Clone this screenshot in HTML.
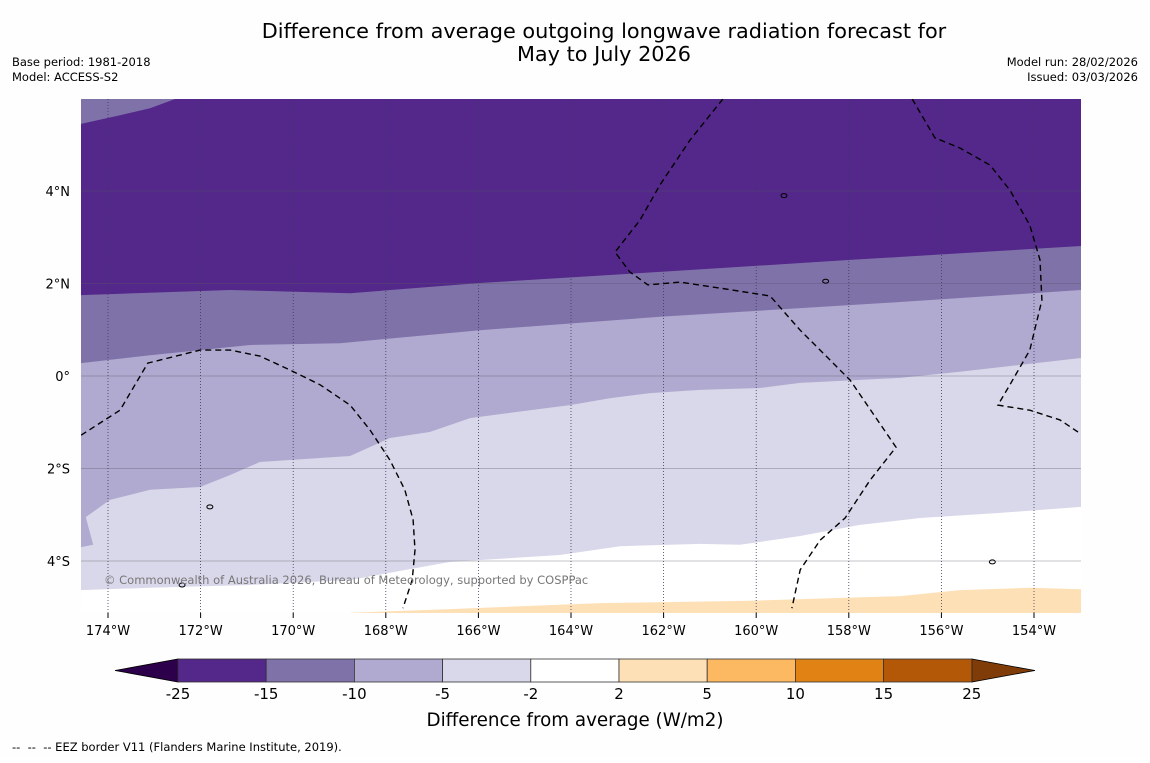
<!DOCTYPE html>
<html><head><meta charset="utf-8"><style>
body{margin:0;background:#fff;width:1150px;height:758px;overflow:hidden;font-family:"Liberation Sans","DejaVu Sans",sans-serif}
svg text{font-family:"DejaVu Sans","Liberation Sans",sans-serif}
</style></head><body>
<svg id="chart" width="1150" height="758" xmlns="http://www.w3.org/2000/svg">
<rect width="1150" height="758" fill="#fefefe"/>
<text x="604" y="38" font-size="20.8" text-anchor="middle">Difference from average outgoing longwave radiation forecast for</text>
<text x="604" y="61" font-size="20.8" text-anchor="middle">May to July 2026</text>
<text x="12" y="66" font-size="11.5">Base period: 1981-2018</text>
<text x="12" y="81" font-size="11.5">Model: ACCESS-S2</text>
<text x="1138" y="66" font-size="11.5" text-anchor="end">Model run: 28/02/2026</text>
<text x="1138" y="81" font-size="11.5" text-anchor="end">Issued: 03/03/2026</text>
<defs><clipPath id="mapclip"><rect x="81" y="99" width="1000" height="514"/></clipPath></defs>
<g id="map" clip-path="url(#mapclip)"></g>
<g id="axes"></g>
<g id="cbar"></g>
<text x="575" y="726" font-size="18.3" text-anchor="middle">Difference from average (W/m2)</text>
<text x="12" y="751" font-size="11.5" xml:space="preserve">--  --  -- EEZ border V11 (Flanders Marine Institute, 2019).</text>
</svg>
<script>
const lonTicks=[-174,-172,-170,-168,-166,-164,-162,-160,-158,-156,-154];
const latTicks=[4,2,0,-2,-4];
const cbarLevels=[-25,-15,-10,-5,-2,2,5,10,15,25];
const cbarColors=["#54278a","#7f72a9","#b0aad0","#d9d8ea","#ffffff","#fee0b6","#fdb862","#e08214","#b35806"];
const bandColors=["#d9d8ea","#b0aad0","#7f72a9","#54278a"];
const bLavWhite=[[-174.58,-4.63],[-173.09,-4.58],[-170.93,-4.52],[-168.77,-4.41],[-166.61,-4.02],[-164.24,-3.87],[-162.94,-3.68],[-161.21,-3.63],[-160.35,-3.65],[-159.05,-3.46],[-157.76,-3.22],[-156.46,-3.07],[-154.73,-2.96],[-152.98,-2.83]];
const bLightLav=[[-174.58,-3.70],[-174.32,-3.65],[-174.48,-3.05],[-173.96,-2.68],[-173.09,-2.46],[-172.01,-2.40],[-171.36,-2.14],[-170.72,-1.86],[-168.77,-1.73],[-167.91,-1.34],[-167.05,-1.21],[-166.18,-0.91],[-164.89,-0.74],[-164.02,-0.63],[-163.16,-0.48],[-162.29,-0.37],[-161.21,-0.30],[-159.92,-0.26],[-159.05,-0.15],[-156.89,-0.04],[-155.60,0.09],[-152.98,0.39]];
const bMidLight=[[-174.58,0.28],[-173.09,0.45],[-170.93,0.67],[-168.99,0.71],[-165.97,0.99],[-162.08,1.28],[-156.89,1.60],[-152.98,1.86]];
const bDarkMid=[[-174.58,1.75],[-171.36,1.86],[-168.77,1.79],[-165.97,2.01],[-162.08,2.25],[-157.97,2.51],[-152.98,2.81]];
const bWhiteOrange=[[-168.77,-5.12],[-166.61,-5.04],[-163.37,-4.91],[-160.13,-4.86],[-156.89,-4.76],[-155.60,-4.63],[-154.09,-4.58],[-152.98,-4.61]];
const cornerLine=[[-174.58,5.45],[-173.74,5.64],[-173.09,5.79],[-172.55,5.99]];
const eez1=[[-174.58,-1.28],[-173.74,-0.74],[-173.14,0.28],[-172.01,0.56],[-171.36,0.56],[-170.72,0.43],[-170.07,0.13],[-169.42,-0.19],[-168.77,-0.63],[-168.34,-1.17],[-167.91,-1.82],[-167.59,-2.46],[-167.41,-3.11],[-167.37,-3.76],[-167.43,-4.41],[-167.63,-5.02]];
const eez2=[[-160.72,5.99],[-161.43,5.10],[-162.08,4.13],[-162.51,3.37],[-163.05,2.68],[-162.73,2.25],[-162.34,1.97],[-161.65,2.03],[-160.78,1.90],[-159.70,1.73],[-159.05,0.99],[-157.97,-0.09],[-156.98,-1.54],[-157.54,-2.25],[-158.08,-3.07],[-158.62,-3.55],[-159.05,-4.19],[-159.23,-5.02]];
const eez3=[[-156.63,5.99],[-156.14,5.15],[-155.60,4.93],[-154.95,4.56],[-154.52,4.02],[-154.09,3.26],[-153.87,2.51],[-153.83,1.64],[-154.09,0.56],[-154.52,-0.19],[-154.78,-0.63],[-154.09,-0.74],[-153.44,-0.95],[-153.05,-1.21]];
const NS="http://www.w3.org/2000/svg";
const X0=108,XS=46.3,Y0=376,YS=46.25;
function xS(lon){return X0+(lon+174)*XS;}
function yS(lat){return Y0-lat*YS;}
function mk(t,a,p){const e=document.createElementNS(NS,t);for(const k in a)e.setAttribute(k,a[k]);p.appendChild(e);return e;}
function pts(arr){return arr.map(p=>xS(p[0]).toFixed(1)+","+yS(p[1]).toFixed(1)).join(" ");}
(function(){
const map=document.getElementById("map");
const yTop=yS(6.3),xLeft=xS(-175),xRight=xS(-152.5),yBot=yS(-5.5);
mk("rect",{x:81,y:99,width:1000,height:514,fill:"#ffffff"},map);
const bounds=[bLavWhite,bLightLav,bMidLight,bDarkMid];
const names=["band-minus5-to-minus2","band-minus10-to-minus5","band-minus15-to-minus10","band-below-minus15"];
bounds.forEach((b,i)=>{
  const p=mk("polygon",{points:xLeft+","+yTop+" "+xLeft+","+yS(b[0][1])+" "+pts(b)+" "+xRight+","+yS(b[b.length-1][1])+" "+xRight+","+yTop,fill:bandColors[i]},map);
  
  
});
const cp=mk("polygon",{points:xLeft+","+yTop+" "+xLeft+","+yS(cornerLine[0][1])+" "+pts(cornerLine),fill:"#7f72a9"},map);


const op=mk("polygon",{points:pts(bWhiteOrange)+" "+xRight+","+yBot+" "+xS(-168.77)+","+yBot,fill:"#fee0b6"},map);


latTicks.forEach(l=>{const g=mk("line",{x1:81,x2:1081,y1:yS(l),y2:yS(l),stroke:"#5a5a6a","stroke-width":0.6,"stroke-opacity":0.7},map);

});
lonTicks.forEach(l=>{const g=mk("line",{x1:xS(l),x2:xS(l),y1:99,y2:613,stroke:"#3a3a5a","stroke-width":0.8,"stroke-dasharray":"1,2"},map);

});
[eez1,eez2,eez3].forEach(e=>{const l=mk("polyline",{points:pts(e),fill:"none",stroke:"#000","stroke-width":1.4,"stroke-dasharray":"6,4"},map);

});
[[-158.5,2.05],[-159.4,3.9],[-171.8,-2.83],[-172.4,-4.52],[-154.9,-4.02]].forEach(p=>{const e=mk("ellipse",{cx:xS(p[0]),cy:yS(p[1]),rx:3,ry:2,fill:"none",stroke:"#000","stroke-width":1},map);

});
const cr=mk("text",{x:104,y:584,"font-size":11.5,fill:"#777"},map);cr.textContent="© Commonwealth of Australia 2026, Bureau of Meteorology, supported by COSPPac";


const ax=document.getElementById("axes");
lonTicks.forEach(l=>{mk("line",{x1:xS(l),x2:xS(l),y1:613,y2:618,stroke:"#000"},ax);
const t=mk("text",{x:xS(l),y:635,"font-size":13,"text-anchor":"middle"},ax);t.textContent=Math.abs(l)+"°W";

});
latTicks.forEach(l=>{const t=mk("text",{x:70,y:yS(l)+5,"font-size":13,"text-anchor":"end"},ax);t.textContent=l===0?"0°":Math.abs(l)+"°"+(l>0?"N":"S");

});
const cb=document.getElementById("cbar");
const cx0=178,cw=88.2,cy=659,ch=23;
function cbx(i){return cx0+i*cw;}
mk("polygon",{points:"115,670.5 "+cx0+","+cy+" "+cx0+","+(cy+ch),fill:"#2d004b",stroke:"#000","stroke-width":0.8},cb);
mk("polygon",{points:"1035,670.5 "+cbx(cbarColors.length)+","+cy+" "+cbx(cbarColors.length)+","+(cy+ch),fill:"#7f3b08",stroke:"#000","stroke-width":0.8},cb);
cbarColors.forEach((c,i)=>{const r=mk("rect",{x:cbx(i),y:cy,width:cw,height:ch,fill:c,stroke:"#333","stroke-width":0.8},cb);

});
cbarLevels.forEach((v,i)=>{const t=mk("text",{x:cbx(i),y:699,"font-size":15,"text-anchor":"middle"},cb);t.textContent=v;

});
})();
</script>
</body></html>
